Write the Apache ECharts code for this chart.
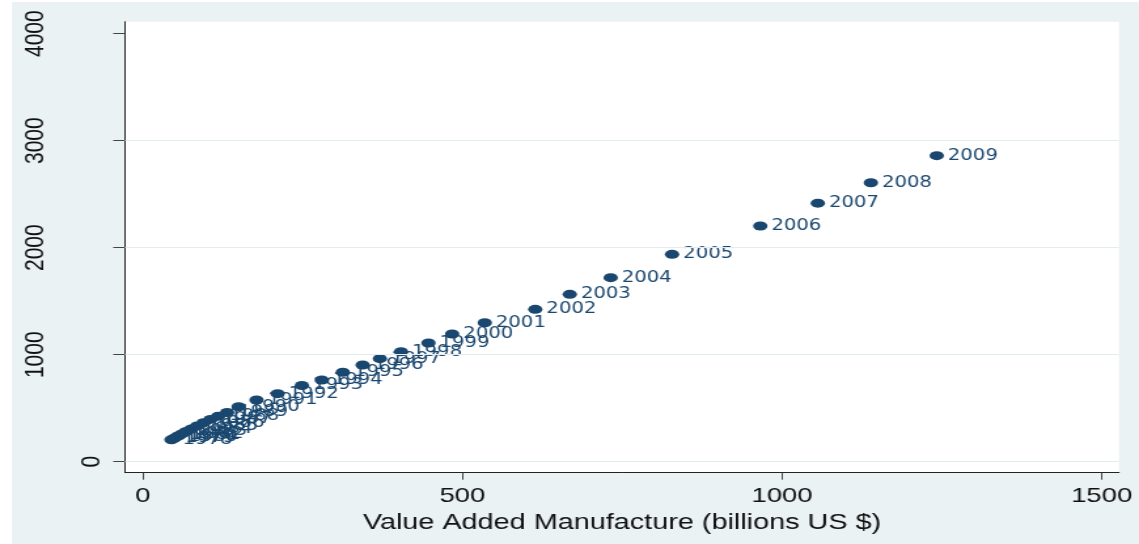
<!DOCTYPE html>
<html>
<head>
<meta charset="utf-8">
<script src="https://cdn.jsdelivr.net/npm/echarts@6/dist/echarts.min.js"></script>
<style>
  html, body { margin: 0; padding: 0; background: #ffffff; width: 1139px; height: 544px; overflow: hidden; }
  #frame { position: absolute; left: 12px; top: 2px; width: 1127px; height: 542px; background: #eaf2f3; }
  /* the chart is laid out on an 870px-wide canvas and widened to the full 1139px */
  #chart { position: absolute; left: 0; top: 0; width: 870px; height: 544px; transform: scaleX(1.309195); transform-origin: 0 0; }
</style>
</head>
<body>
<div id="frame"></div>
<div id="chart"></div>
<script>
// Annual observations, 1978-2009
const years = [1978, 1979, 1980, 1981, 1982, 1983, 1984, 1985, 1986, 1987, 1988, 1989,
               1990, 1991, 1992, 1993, 1994, 1995, 1996, 1997, 1998, 1999,
               2000, 2001, 2002, 2003, 2004, 2005, 2006, 2007, 2008, 2009];
// Value added in manufacturing (billions US $)
const valueAdded = [45, 49, 53, 57, 62, 68, 76, 85, 95, 106, 118, 132,
                    150, 178, 211, 249, 280, 313, 344, 371, 404, 447,
                    484, 535, 614, 668, 732, 828, 966, 1056, 1139, 1242];
// Vertical-axis measure
const verticalValues = [205, 218, 232, 245, 262, 282, 306, 334, 364, 395, 425, 460,
                        514, 577, 636, 712, 764, 836, 904, 963, 1028, 1109,
                        1193, 1299, 1424, 1564, 1720, 1938, 2203, 2416, 2607, 2860];

const xTicks = [0, 500, 1000, 1500];
const yTicksUpper = [1000, 2000, 3000, 4000];
const yTickZero = [0];
const gridLevels = [0, 1000, 2000, 3000];

const navy = '#1a476f';
const axisFont = '"Liberation Sans", Arial, sans-serif';
const pointFont = '"DejaVu Sans", sans-serif';
const X_MIN = -27.7, X_MAX = 1527.1;
const Y_MIN = -102.8, Y_MAX = 4112;

const points = years.map((yr, i) => [valueAdded[i], verticalValues[i], String(yr)]);
const plain = v => String(v);

const chart = echarts.init(document.getElementById('chart'), null, { renderer: 'canvas' });

const yAxisBase = {
  type: 'value', position: 'left', offset: 0, min: Y_MIN, max: Y_MAX,
  splitLine: { show: false }
};

chart.setOption({
  backgroundColor: 'transparent',
  animation: false,
  grid: {
    left: 95.48, top: 21.7, width: 759.24, height: 451,
    show: true, backgroundColor: '#ffffff', borderWidth: 0
  },
  xAxis: {
    type: 'value', min: X_MIN, max: X_MAX,
    name: 'Value Added Manufacture (billions US $)',
    nameLocation: 'middle', nameGap: 26,
    nameTextStyle: { fontFamily: axisFont, fontSize: 22, color: '#111' },
    axisLine: { show: true, onZero: false, lineStyle: { color: '#222', width: 1 } },
    axisTick: { show: true, length: 7, customValues: xTicks, lineStyle: { color: '#444', width: 1 } },
    axisLabel: { show: true, customValues: xTicks, formatter: plain, margin: 13, fontFamily: axisFont, fontSize: 21, color: '#111' },
    splitLine: { show: false }
  },
  yAxis: [
    Object.assign({}, yAxisBase, {
      axisLine: { show: true, onZero: false, lineStyle: { color: '#222', width: 1 } },
      axisTick: { show: true, length: 9, customValues: [0].concat(yTicksUpper), lineStyle: { color: '#444', width: 1 } },
      axisLabel: { show: true, customValues: yTicksUpper, formatter: plain, rotate: 90, margin: 58, fontFamily: axisFont, fontSize: 21, color: '#111' }
    }),
    Object.assign({}, yAxisBase, {
      axisLine: { show: false },
      axisTick: { show: false },
      axisLabel: { show: true, customValues: yTickZero, formatter: plain, rotate: 90, margin: 14.5, fontFamily: axisFont, fontSize: 21, color: '#111' }
    })
  ],
  series: [
    {
      // light horizontal reference lines
      type: 'line', data: [], z: 1, silent: true,
      markLine: {
        silent: true, symbol: 'none', label: { show: false },
        lineStyle: { color: '#e3ecee', width: 1, type: 'solid' },
        data: gridLevels.map(v => ({ yAxis: v }))
      }
    },
    {
      type: 'scatter', z: 3,
      data: points,
      symbol: 'circle', symbolSize: [11, 9],
      itemStyle: { color: navy, opacity: 1 },
      label: {
        show: true, position: 'right', distance: 3,
        formatter: p => p.data[2],
        fontFamily: pointFont, fontSize: 15, color: navy
      },
      emphasis: { disabled: true }
    }
  ]
});
</script>
</body>
</html>
